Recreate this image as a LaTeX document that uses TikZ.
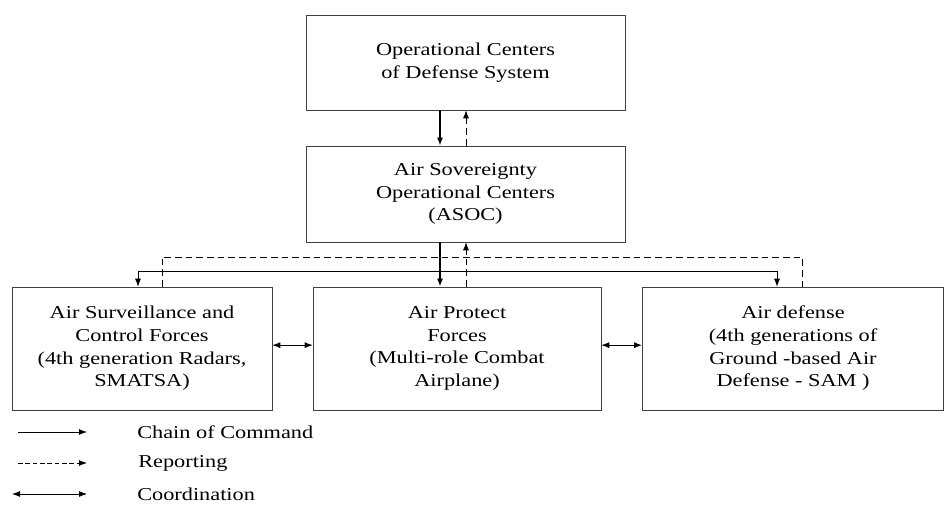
\documentclass[tikz,border=0pt]{standalone}
\usepackage{fontspec}
\setmainfont[FakeStretch=1.23]{Liberation Serif}
\usetikzlibrary{arrows.meta}
\begin{document}
\begin{tikzpicture}[
x=0.75pt,y=-0.75pt,
every node/.style={
draw=black!75,
align=center,
inner sep=0pt,
font=\rmfamily\fontsize{13.6}{17}\selectfont
},
legend/.style={draw=none,anchor=west},
tip/.style={-{Latex[length=6pt,width=4.5pt]},line width=0.7pt},
cmd/.style={tip,line width=1.5pt},
rep/.style={tip,dash pattern=on 5pt off 3pt},
coord/.style={{Latex[length=6pt,width=4.5pt]}-{Latex[length=6pt,width=4.5pt]},line width=0.7pt}
]

\useasboundingbox (0,0) rectangle (945,505);

\node[minimum width=239.25pt,minimum height=71.25pt] (Top) at (465.5,62.5)
{Operational Centers\\of Defense System};

\node[minimum width=239.25pt,minimum height=72pt] (Asoc) at (465.5,194)
{Air Sovereignty\\Operational Centers\\(ASOC)};

\node[minimum width=195pt,minimum height=92.25pt] (Surv) at (142,348.5)
{Air Surveillance and\\Control Forces\\(4th generation Radars,\\SMATSA)};

\node[minimum width=216pt,minimum height=92.25pt] (Prot) at (457,348.5)
{Air Protect\\Forces\\(Multi-role Combat\\Airplane)};

\node[minimum width=226pt,minimum height=92.25pt] (Def) at (793,348.5)
{Air defense\\(4th generations of\\Ground -based Air\\Defense - SAM )};

% bus points
\coordinate (cA) at (440,271);
\coordinate (cB) at (466,257);
\coordinate (sL) at (138,271);
\coordinate (sR) at (777,271);
\coordinate (dL) at (162,257);
\coordinate (dR) at (802,257);

\draw[cmd] (Top.south -| cA) -- (Asoc.north -| cA);
\draw[rep] (Asoc.north -| cB) -- (Top.south -| cB);

\draw[cmd] (Asoc.south -| cA) -- (Prot.north -| cA);
\draw[rep] (Prot.north -| cB) -- (Asoc.south -| cB);

\draw[tip] (cA) -| (Surv.north -| sL);
\draw[tip] (cA) -| (Def.north -| sR);
\draw[line width=0.7pt,dash pattern=on 5pt off 3pt] (Surv.north -| dL) -- (dL) -- (dR) -- (Def.north -| dR);

\draw[coord] ([yshift=2.5pt]Surv.east) -- ([yshift=2.5pt]Prot.west);
\draw[coord] ([yshift=2.5pt]Prot.east) -- ([yshift=2.5pt]Def.west);

% legend
\coordinate (l1a) at (18,432);
\coordinate (l1b) at (87,432);
\coordinate (l2a) at (18,463);
\coordinate (l2b) at (87,463);
\coordinate (l3a) at (12,494);
\coordinate (l3b) at (87,494);

\draw[tip] (l1a) -- (l1b);
\draw[rep,dash pattern=on 3.5pt off 2pt] (l2a) -- (l2b);
\draw[coord] (l3a) -- (l3b);

\node[legend] (Lc) at (137,432) {Chain of Command};
\node[legend] (Lr) at (138,463) {Reporting};
\node[legend] (Lk) at (137,494) {Coordination};

\end{tikzpicture}
\end{document}
